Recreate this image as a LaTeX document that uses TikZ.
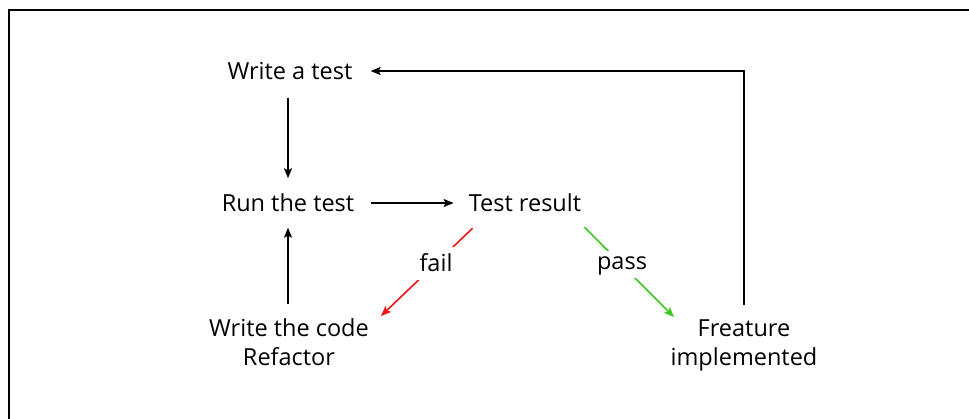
\documentclass[tikz,border=0pt]{standalone}
\usepackage{fontspec}
\setmainfont{Open Sans}
\usetikzlibrary{arrows.meta}
\definecolor{failred}{RGB}{240,20,20}
\definecolor{passgreen}{RGB}{60,200,30}
\tikzset{
  stepbox/.style={inner sep=0pt, font=\fontsize{23.5}{29}\selectfont, text height=17pt, text depth=0pt},
  twoline/.style={inner sep=0pt, align=center, font=\fontsize{23.5}{29}\selectfont},
  lbl/.style={fill=white, inner xsep=3pt, font=\fontsize{23.5}{29}\selectfont, text=black},
  arr/.style={line width=1.6pt, -{Stealth[length=10pt,width=8pt,inset=2pt]}},
}
\begin{document}
\begin{tikzpicture}[x=1pt,y=-1pt]
  % page and frame
  \clip (0,0) rectangle (969,418);
  \fill[white] (0,0) rectangle (969,418);
  \draw[line width=2pt] (9,430) -- (9,10) -- (980,10);

  % steps of the cycle
  \node[stepbox] (wt) at (290,71) {Write a test};
  \node[stepbox] (rt) at (288,203) {Run the test};
  \node[stepbox] (tr) at (525,203) {Test result};
  \node[twoline, anchor=base] (code) at (289,365) {Write the code\\Refactor};
  \node[twoline, anchor=base] (feat) at (744,365) {Freature\\implemented};

  % connectors
  \draw[arr, shorten <=18pt, shorten >=16pt] (wt.south -| rt.north) -- (rt.north);
  \draw[arr, shorten <=14pt, shorten >=16pt] (code.north -| rt.south) -- (rt.south);
  \draw[arr, shorten <=17pt, shorten >=15pt] (rt.east) -- (tr.west);
  \draw[arr, failred] ([shift={(4,16.5)}]tr.south west) --
    node[lbl, pos=0.4, text height=17pt, text depth=0pt, inner ysep=8pt] (fail) {fail}
    ([shift={(12,-2)}]code.north east);
  \draw[arr, passgreen] ([shift={(3,15.5)}]tr.south east) --
    node[lbl, pos=0.42, text height=13pt, text depth=4pt, inner ysep=5pt] (pass) {pass}
    ([shift={(-70,-2)}]feat.north);
  \draw[arr, shorten <=14pt, shorten >=18pt] (feat.north) |- (wt.east);
\end{tikzpicture}
\end{document}
